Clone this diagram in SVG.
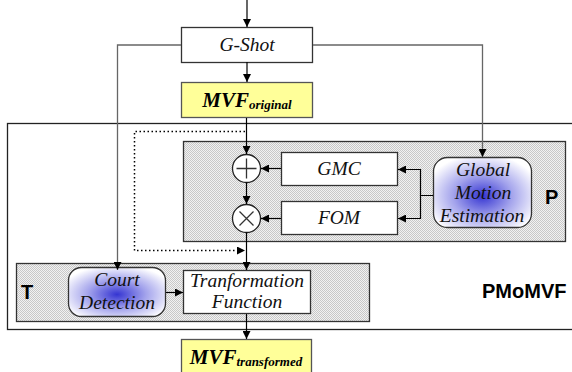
<svg xmlns="http://www.w3.org/2000/svg" width="572" height="372" viewBox="0 0 572 372">
  <defs>
    <pattern id="dither" width="2" height="2" patternUnits="userSpaceOnUse">
      <rect width="2" height="2" fill="#f2f2f2"/>
      <rect width="1" height="1" fill="#c8c8c8"/>
      <rect x="1" y="1" width="1" height="1" fill="#c8c8c8"/>
    </pattern>
    <radialGradient id="blueGlow" cx="50%" cy="55%" r="60%">
      <stop offset="0" stop-color="#3535d2"/>
      <stop offset="0.5" stop-color="#a4a4ec"/>
      <stop offset="1" stop-color="#ffffff"/>
    </radialGradient>
    <marker id="arrow" viewBox="0 0 10 10" refX="10" refY="5" markerWidth="8" markerHeight="8" markerUnits="userSpaceOnUse" orient="auto">
      <path d="M0,0 L10,5 L0,10 Z" fill="#000"/>
    </marker>
  </defs>
  <style>
    .group { fill: url(#dither); stroke: #333; stroke-width: 1.3; }
    .box { fill: #fff; stroke: #333; stroke-width: 1.3; }
    .mvf { fill: #ffff99; stroke: #555; stroke-width: 1.3; }
    .glow { fill: url(#blueGlow); stroke: #333; stroke-width: 1.3; }
    .op { fill: #fff; stroke: #222; stroke-width: 1.3; }
    .sym { stroke: #333; stroke-width: 1.3; fill: none; }
    .it { font-family: "Liberation Serif", serif; font-style: italic; font-size: 19.5px; fill: #111; text-anchor: middle; }
    .mvft { font-family: "Liberation Serif", serif; font-style: italic; font-weight: bold; fill: #000; }
    .lbl { font-family: "Liberation Sans", Arial, sans-serif; font-weight: bold; font-size: 20px; fill: #000; }
    .wire { stroke: #000; stroke-width: 1.2; fill: none; }
    .grey { stroke: #666; stroke-width: 1.3; fill: none; }
    .dots { stroke: #000; stroke-width: 1.5; fill: none; stroke-dasharray: 1.5 2.5; }
  </style>

  <!-- PMoMVF enclosure -->
  <g id="pmomvf">
    <rect x="7.5" y="123.5" width="570" height="206" fill="#fff" stroke="#222" stroke-width="1.3"/>
    <text class="lbl" x="482" y="298">PMoMVF</text>
  </g>

  <!-- P block -->
  <g id="p-block">
    <rect class="group" x="183.5" y="141.5" width="382" height="100"/>
    <text class="lbl" x="545" y="204" font-size="21">P</text>
  </g>

  <!-- T block -->
  <g id="t-block">
    <rect class="group" x="16.5" y="263.5" width="353" height="58"/>
    <text class="lbl" x="21" y="299">T</text>
  </g>

  <g id="g-shot">
    <rect class="box" x="181.5" y="27.5" width="131" height="35" stroke="#555"/>
    <text class="it" x="247" y="51">G-Shot</text>
  </g>

  <g id="mvf-original">
    <rect class="mvf" x="181.5" y="82.5" width="131" height="35"/>
    <text class="mvft" x="247" y="107" text-anchor="middle"><tspan font-size="21">MVF</tspan><tspan font-size="13" dy="2">original</tspan></text>
  </g>

  <g id="add">
    <circle class="op" cx="246.5" cy="168.5" r="14"/>
    <path class="sym" d="M236.5,168.5 H256.5 M246.5,158.5 V178.5"/>
  </g>

  <g id="mul">
    <circle class="op" cx="246.5" cy="218.5" r="14"/>
    <path class="sym" d="M239.5,211.5 L253.5,225.5 M253.5,211.5 L239.5,225.5"/>
  </g>

  <g id="gmc">
    <rect class="box" x="281.5" y="152.5" width="116" height="33"/>
    <text class="it" x="339" y="175">GMC</text>
  </g>

  <g id="fom">
    <rect class="box" x="281.5" y="201.5" width="116" height="33"/>
    <text class="it" x="339" y="224">FOM</text>
  </g>

  <g id="gme">
    <rect class="glow" x="433.5" y="157.5" width="98" height="70" rx="14"/>
    <text class="it" x="483" y="176" fill="#1a1a40">Global</text>
    <text class="it" x="483" y="199" fill="#1a1a40">Motion</text>
    <text class="it" x="482" y="222" fill="#1a1a40">Estimation</text>
  </g>

  <g id="court-detection">
    <rect class="glow" x="68.5" y="267.5" width="97" height="49" rx="13"/>
    <text class="it" x="117" y="286">Court</text>
    <text class="it" x="117" y="309">Detection</text>
  </g>

  <g id="transformation-function">
    <rect class="box" x="183.5" y="270.5" width="127" height="43"/>
    <text class="it" x="247" y="287">Tranformation</text>
    <text class="it" x="247" y="308">Function</text>
  </g>

  <g id="mvf-transformed">
    <rect class="mvf" x="181.5" y="339.5" width="130" height="40"/>
    <text class="mvft" x="246" y="364" text-anchor="middle"><tspan font-size="21">MVF</tspan><tspan font-size="13" dy="2">transformed</tspan></text>
  </g>

  <!-- connectors -->
  <g id="connectors">
    <path class="wire" d="M247,0 V27" marker-end="url(#arrow)"/>
    <path class="wire" d="M247,62 V82" marker-end="url(#arrow)"/>
    <path class="grey" d="M181,45 H117.5 V270" marker-end="url(#arrow)"/>
    <path class="grey" d="M313,45 H482.5 V157" marker-end="url(#arrow)"/>
    <path class="wire" d="M246.5,118 V154" marker-end="url(#arrow)"/>
    <path class="wire" d="M246.5,182.5 V204" marker-end="url(#arrow)"/>
    <path class="wire" d="M246.5,232.5 V270" marker-end="url(#arrow)"/>
    <path class="dots" d="M245,131.5 H134.5 V250.5 H245" marker-end="url(#arrow)"/>
    <path class="wire" d="M281,168.5 H261" marker-end="url(#arrow)"/>
    <path class="wire" d="M281,218.5 H261" marker-end="url(#arrow)"/>
    <path class="wire" d="M433,195.5 H420.5 V169.5 H398" marker-end="url(#arrow)"/>
    <path class="wire" d="M420.5,195.5 V218.5 H398" marker-end="url(#arrow)"/>
    <path class="wire" d="M166,292.5 H183" marker-end="url(#arrow)"/>
    <path class="wire" d="M246.5,314 V339" marker-end="url(#arrow)"/>
  </g>
</svg>
